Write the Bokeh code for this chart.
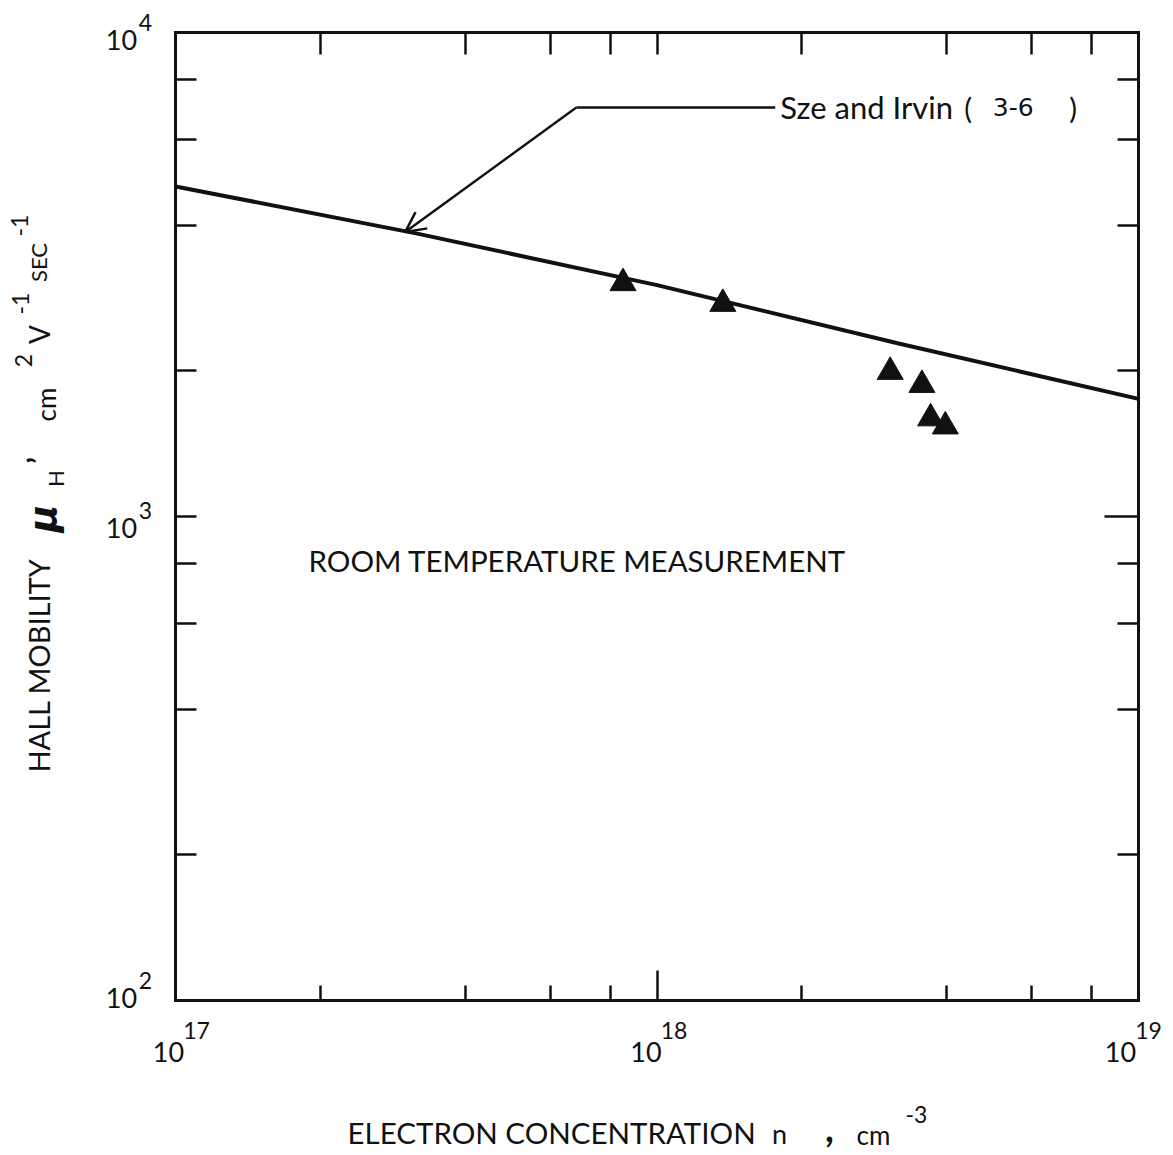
import math
from bokeh.plotting import figure
from bokeh.models import (Range1d, LogAxis, FixedTicker, Label, Arrow, OpenHead,
                          CustomJSTickFormatter)
from bokeh.embed import file_html
from bokeh.resources import INLINE

# ---- data ----
curve_n = [1e17, 3.16e17, 1e18, 3.16e18, 1e19]          # Sze and Irvin curve
curve_mu = [4808, 3846, 3006, 2280, 1750]

meas_n = [8.5e17, 1.37e18, 3.05e18, 3.55e18, 3.70e18, 3.97e18]   # room temperature measurement
meas_mu = [3035, 2750, 1990, 1870, 1595, 1535]

x_minor_ticks = [2e17, 4e17, 6e17, 8e17, 2e18, 4e18, 6e18, 8e18]
x_major_ticks = [1e18]
y_minor_ticks = [200, 400, 600, 800, 2000, 4000, 6000, 8000]
y_major_ticks = [1000]

x_decades = [1e17, 1e18, 1e19]
x_exps = ["17", "18", "19"]
y_decades = [1e2, 1e3, 1e4]
y_exps = ["2", "3", "4"]

pointer_n = [1.76e18, 6.8e17]      # leader line for the curve label
pointer_mu = [7000, 7000]
arrow_tip_n, arrow_tip_mu = 3.0e17, 3870

INK = "#111111"
FONT = "Lato"

# ---- layout: the plotting frame fills the canvas; the box is drawn by axes at fixed locations ----
W, H = 1170, 1152
BOX_L, BOX_R, BOX_T, BOX_B = 175, 1138, 32, 1000       # box edges in canvas pixels
x0, x1 = x_decades[0], x_decades[-1]
y0, y1 = y_decades[0], y_decades[-1]
px_dec_x = (BOX_R - BOX_L) / math.log10(x1 / x0)
px_dec_y = (BOX_B - BOX_T) / math.log10(y1 / y0)
xr = Range1d(x0 / 10 ** (BOX_L / px_dec_x), x1 * 10 ** ((W - BOX_R) / px_dec_x))
yr = Range1d(y0 / 10 ** ((H - BOX_B) / px_dec_y), y1 * 10 ** (BOX_T / px_dec_y))

p = figure(width=W, height=H, x_axis_type="log", y_axis_type="log",
           x_range=xr, y_range=yr, output_backend="svg", toolbar_location=None,
           min_border=0)
p.background_fill_color = "white"
p.border_fill_color = "white"
p.outline_line_color = None
p.xgrid.visible = False
p.ygrid.visible = False

blank = CustomJSTickFormatter(code="return ''")

def style_axis(ax, ticks, minor, major_len, minor_len, bounds, loc):
    ax.ticker = FixedTicker(ticks=ticks, minor_ticks=minor)
    ax.formatter = blank
    ax.bounds = bounds
    ax.fixed_location = loc
    ax.axis_line_color = INK
    ax.axis_line_width = 3
    ax.axis_line_cap = "square"
    ax.major_tick_in = major_len
    ax.major_tick_out = 0
    ax.minor_tick_in = minor_len
    ax.minor_tick_out = 0
    ax.major_tick_line_color = INK
    ax.minor_tick_line_color = INK
    ax.major_tick_line_width = 2.5
    ax.minor_tick_line_width = 2.5
    ax.major_label_standoff = 0
    ax.major_label_text_font_size = "0px"
    ax.axis_label = None

style_axis(p.xaxis[0], x_major_ticks, x_minor_ticks, 30, 15, (x0, x1), y0)
style_axis(p.yaxis[0], y_major_ticks, y_minor_ticks, 21, 21, (y0, y1), x0)
top = LogAxis()
style_axis(top, x_major_ticks, x_minor_ticks, 22, 22, (x0, x1), y1)
p.add_layout(top, "above")
right = LogAxis()
style_axis(right, y_major_ticks, y_minor_ticks, 34, 21, (y0, y1), x1)
p.add_layout(right, "right")

# curve and measurements
p.line(curve_n, curve_mu, line_color=INK, line_width=4)
p.scatter(meas_n, meas_mu, marker="triangle", size=26, fill_color=INK, line_color=INK, line_width=1)

# pointer
p.line(pointer_n, pointer_mu, line_color=INK, line_width=2.5)
p.add_layout(Arrow(end=OpenHead(size=20, line_width=2.5, line_color=INK),
                   x_start=pointer_n[1], y_start=pointer_mu[1],
                   x_end=arrow_tip_n, y_end=arrow_tip_mu,
                   line_color=INK, line_width=2.5))

def lab(text, x, y, dx, dy, size, angle=0.0, font=FONT, style="normal", align="center"):
    p.add_layout(Label(x=x, y=y, x_offset=dx, y_offset=dy, text=text, text_font=font,
                       text_font_size=f"{size}px", text_font_style=style, angle=angle,
                       text_align=align, text_baseline="middle", text_color=INK))

# curve label
lab("Sze and Irvin", pointer_n[0], pointer_mu[0], 5, 0, 31, align="left")
lab("(", pointer_n[0], pointer_mu[0], 193, 0, 29)
lab("3-6", pointer_n[0], pointer_mu[0], 238, 0, 25, font="DejaVu Sans")
lab(")", pointer_n[0], pointer_mu[0], 298, 0, 29)

lab("ROOM TEMPERATURE MEASUREMENT", x0, y0, 133, 440, 29.5, align="left")

# tick labels (decades)
x_ten_dx = [-7, -11, -18]
for v, e, d in zip(x_decades, x_exps, x_ten_dx):
    lab("10", v, y0, d, -51, 27)
    lab(e, v, y0, d + 28, -30, 23)
y_ten_dy = [3, -11, -7]
for v, e, d in zip(y_decades, y_exps, y_ten_dy):
    lab("10", x0, v, -54, d, 27)
    lab(e, x0, v, -30, d + 17, 23)

# x axis title
lab("ELECTRON CONCENTRATION", x0, y0, 172, -132, 29.5, align="left")
lab("n", x0, y0, 604, -133, 27)
lab(",", x0, y0, 654, -127, 38, style="bold")
lab("cm", x0, y0, 698, -134, 26)
lab("-3", x0, y0, 741, -114, 23)

# y axis title (rotated)
R = math.pi / 2
lab("HALL MOBILITY", x0, y0, -137, 335, 29, angle=R)
lab("μ", x0, y0, -133, 482, 38, angle=R, font="DejaVu Sans", style="bold italic")
lab("H", x0, y0, -120, 522, 22, angle=R)
lab("’", x0, y0, -138, 540, 30, angle=R, style="bold")
lab("cm", x0, y0, -130, 596, 26, angle=R)
lab("2", x0, y0, -152, 640, 23, angle=R)
lab("V", x0, y0, -137, 666, 28, angle=R)
lab("-1", x0, y0, -155, 697, 23, angle=R)
lab("SEC", x0, y0, -137, 738, 22, angle=R)
lab("-1", x0, y0, -156, 775, 23, angle=R)

open("out.html", "w").write(file_html(p, INLINE))
